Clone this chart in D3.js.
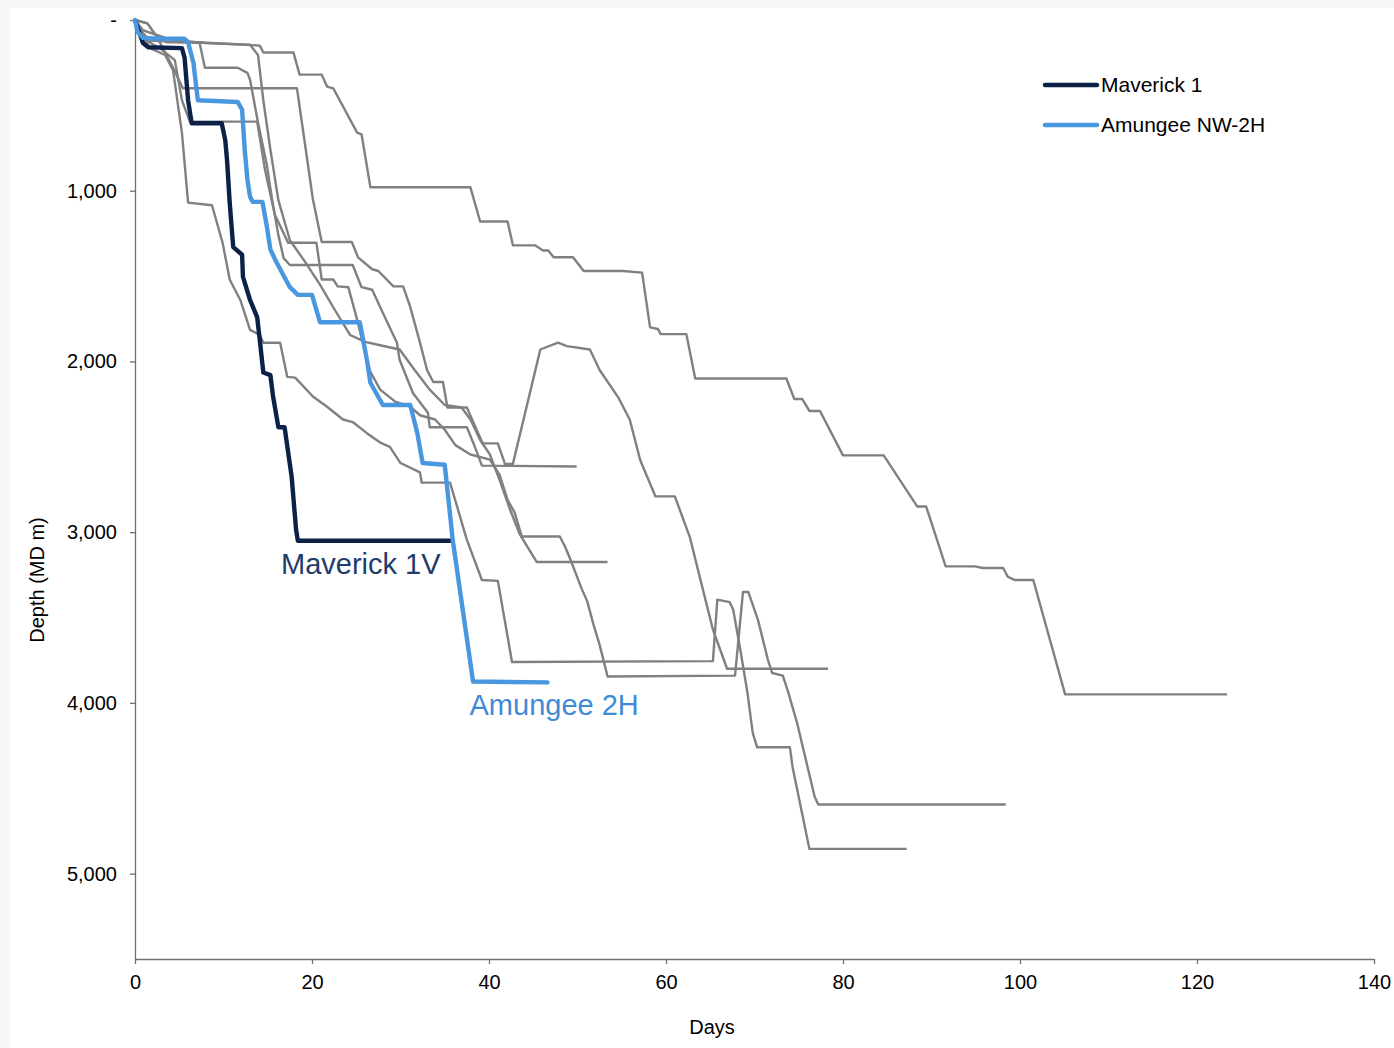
<!DOCTYPE html>
<html lang="en">
<head>
<meta charset="UTF-8">
<title>Days vs Depth</title>
<script src="https://d3js.org/d3.v7.min.js"></script>
<style>
    body {
        margin: 0;
        background: #f7f7f7;
        font-family: 'Liberation Sans', Arial, sans-serif;
    }
    svg { display: block; }
    .offset {
        fill: none;
        stroke: #808080;
        stroke-width: 2.4;
        stroke-linejoin: round;
    }
    .axis path, .axis line { stroke: #707070; stroke-width: 1.3; }
    .axis text { fill: #000; font-size: 20px; font-family: 'Liberation Sans', Arial, sans-serif; }
</style>
</head>
<body>
<svg width="1394" height="1048"></svg>
<script>
// [day, measured depth m]
const maverick1 = [[0,0],[0.9,135],[1.5,160],[5.3,165],[5.6,220],[6.0,470],[6.4,605],[9.8,605],[10.2,705],[10.4,820],[10.7,1070],[11.1,1330],[12.1,1375],[12.2,1505],[13.0,1640],[13.8,1740],[14.1,1875],[14.5,2065],[15.3,2080],[15.6,2205],[16.2,2385],[16.9,2385],[17.7,2675],[18.2,2985],[18.4,3050],[35.8,3050]];

const amungee2H = [[0,0],[0.3,70],[0.9,105],[2.6,110],[5.6,110],[6.0,130],[6.6,250],[7.1,470],[11.6,480],[12.1,525],[12.4,760],[12.7,935],[13.0,1035],[13.3,1065],[14.4,1065],[14.9,1210],[15.3,1345],[16.0,1420],[17.5,1565],[18.4,1610],[20.0,1610],[20.9,1770],[25.4,1770],[26.2,1990],[26.6,2125],[28.0,2255],[31.1,2255],[31.9,2420],[32.5,2595],[35.0,2605],[35.9,3045],[38.2,3875],[46.6,3880]];

const offsetA = [[0,0],[1.4,20],[2.5,100],[3.6,130],[7.1,130],[14.1,150],[14.5,190],[17.9,190],[18.6,320],[21.1,320],[21.7,390],[22.4,400],[25.1,660],[25.6,670],[26.6,980],[37.9,980],[39.0,1180],[42.1,1180],[42.7,1320],[45.2,1320],[46.1,1350],[46.7,1350],[47.3,1390],[49.5,1390],[50.7,1470],[55.1,1470],[57.3,1480],[58.2,1800],[59.1,1810],[59.4,1840],[62.3,1840],[63.3,2100],[73.6,2100],[74.5,2220],[75.4,2220],[76.2,2290],[77.4,2290],[80.0,2550],[84.6,2550],[88.4,2850],[89.4,2850],[91.6,3200],[94.9,3200],[95.8,3210],[98.1,3210],[98.6,3260],[99.4,3280],[101.5,3280],[105.1,3950],[123.4,3950]];

const offsetB = [[0,0],[0.6,60],[1.7,120],[7.3,135],[7.9,280],[11.6,280],[12.7,310],[13.0,350],[13.9,600],[14.9,850],[15.5,1055],[16.2,1260],[16.8,1395],[17.5,1435],[24.6,1435],[25.6,1565],[26.8,1580],[28.0,1715],[29.6,1890],[29.9,1990],[31.4,2185],[33.1,2300],[33.3,2385],[37.5,2385],[38.4,2500],[39.2,2610],[49.9,2615]];

const offsetD = [[0,0],[0.6,75],[1.7,165],[3.4,205],[4.3,295],[5.3,660],[6.0,1070],[8.7,1085],[9.9,1305],[10.7,1520],[11.9,1640],[13.0,1815],[14.1,1845],[14.5,1890],[16.4,1890],[17.2,2090],[18.1,2095],[20.1,2205],[21.7,2265],[23.5,2340],[24.6,2355],[26.2,2420],[27.7,2475],[28.8,2500],[30.0,2595],[32.2,2650],[32.4,2710],[35.6,2710],[37.5,3045],[39.2,3280],[41.0,3285],[42.6,3760],[65.3,3755],[65.8,3395],[67.2,3410],[67.6,3455],[68.4,3690],[69.2,3940],[69.8,4175],[70.3,4260],[74.0,4260],[74.3,4375],[76.2,4855],[87.2,4855]];

const offsetE = [[0,0],[1.1,115],[2.8,165],[4.5,235],[5.3,470],[6.2,595],[13.8,595],[14.7,880],[15.8,1140],[17.3,1305],[20.5,1305],[21.1,1520],[22.4,1520],[22.9,1560],[24.1,1565],[25.1,1755],[25.8,1905],[26.6,2060],[27.7,2165],[29.4,2235],[31.1,2265],[32.2,2315],[33.9,2340],[35.0,2400],[36.2,2490],[37.9,2545],[40.1,2575],[41.2,2665],[42.1,2810],[42.9,2885],[43.7,3025],[48.0,3025],[48.6,3085],[49.2,3160],[50.5,3335],[51.1,3405],[51.8,3540],[52.5,3660],[53.4,3845],[67.8,3840],[68.7,3350],[69.3,3350],[70.4,3515],[71.5,3745],[72.0,3825],[73.2,3840],[73.8,3935],[74.8,4115],[76.8,4550],[77.2,4595],[98.4,4595]];

const offsetF = [[0,0],[1.4,20],[2.5,100],[4.3,280],[5.4,400],[7.3,400],[18.3,400],[20.1,1050],[21.1,1300],[24.5,1300],[25.2,1390],[26.8,1460],[27.5,1470],[29.2,1560],[30.3,1560],[31.1,1680],[32.2,1890],[33.0,2050],[33.7,2120],[34.8,2120],[35.3,2270],[37.5,2270],[38.6,2400],[39.3,2480],[41.0,2480],[41.8,2600],[42.7,2600],[45.8,1930],[47.8,1890],[48.8,1910],[51.4,1930],[52.5,2050],[54.6,2210],[55.9,2340],[57.1,2580],[58.8,2790],[61.0,2790],[62.7,3030],[63.8,3260],[65.3,3570],[66.9,3800],[78.3,3800]];

const offsetH = [[0,0],[0.9,60],[4.0,115],[7.9,135],[13.0,145],[13.9,205],[14.5,470],[15.3,760],[16.2,1055],[17.5,1290],[19.2,1415],[20.9,1550],[22.6,1700],[24.3,1845],[26.0,1885],[27.7,1905],[29.9,1930],[31.6,2050],[33.3,2165],[35.0,2255],[36.9,2270],[37.9,2340],[39.0,2460],[40.1,2545],[41.2,2695],[42.4,2870],[43.5,3015],[45.4,3175],[53.4,3175]];

const offsetWells = [offsetA, offsetB, offsetD, offsetE, offsetF, offsetH];

const xTicks = [0, 20, 40, 60, 80, 100, 120, 140];
const yTicks = [0, 1000, 2000, 3000, 4000, 5000];
const legendNames = ['Maverick 1', 'Amungee NW-2H'];

const W = 1394, H = 1048;
const margin = { top: 20, right: 20, bottom: 89, left: 135 };

const svg = d3.select('svg');
svg.append('rect').attr('x', 10).attr('y', 8).attr('width', W - 10).attr('height', H - 8).attr('fill', '#fff');

const x = d3.scaleLinear().domain([0, 140]).range([margin.left, W - margin.right]);
const y = d3.scaleLinear().domain([0, 5500]).range([margin.top, H - margin.bottom]);

const line = d3.line().x(d => x(d[0])).y(d => y(d[1]));

svg.append('g')
    .attr('class', 'axis')
    .attr('transform', `translate(0,${H - margin.bottom})`)
    .call(d3.axisBottom(x).tickValues(xTicks).tickSize(5).tickSizeOuter(0).tickPadding(11));

svg.append('g')
    .attr('class', 'axis')
    .attr('transform', `translate(${margin.left},0)`)
    .call(d3.axisLeft(y).tickValues(yTicks).tickSize(5).tickSizeOuter(0).tickPadding(13)
        .tickFormat(d => d === 0 ? '-' : d3.format(',')(d)));

svg.append('text')
    .attr('x', 712).attr('y', 1034)
    .attr('text-anchor', 'middle')
    .style('font-size', '20px')
    .text('Days');

svg.append('text')
    .attr('transform', 'translate(44,580) rotate(-90)')
    .attr('text-anchor', 'middle')
    .style('font-size', '20px')
    .text('Depth (MD m)');

svg.append('g').selectAll('path')
    .data(offsetWells)
    .enter().append('path')
    .attr('class', 'offset')
    .attr('d', line);

svg.append('path').datum(maverick1)
    .attr('fill', 'none').attr('stroke', '#0b2148').attr('stroke-width', 4.4)
    .attr('stroke-linejoin', 'round').attr('d', line);

svg.append('path').datum(amungee2H)
    .attr('fill', 'none').attr('stroke', '#4897df').attr('stroke-width', 4.4)
    .attr('stroke-linejoin', 'round').attr('stroke-linecap', 'round').attr('d', line);

svg.append('text')
    .attr('x', x(16.5)).attr('y', y(3245))
    .style('font-size', '29px').attr('fill', '#1f3d6b')
    .text('Maverick 1V');

svg.append('text')
    .attr('x', x(37.8)).attr('y', y(4070))
    .style('font-size', '29px').attr('fill', '#3f8ad6')
    .text('Amungee 2H');

const legendColors = ['#0b2148', '#4897df'];
const legend = svg.append('g').attr('transform', 'translate(1043,85)');
legendNames.forEach((name, i) => {
    legend.append('line')
        .attr('x1', 2).attr('x2', 54).attr('y1', i * 40).attr('y2', i * 40)
        .attr('stroke', legendColors[i]).attr('stroke-width', 4.5).attr('stroke-linecap', 'round');
    legend.append('text')
        .attr('x', 58).attr('y', i * 40 + 7)
        .style('font-size', '21px')
        .text(name);
});
</script>
</body>
</html>
